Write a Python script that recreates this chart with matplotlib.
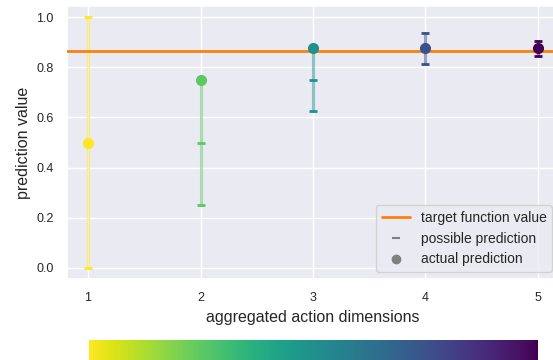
import numpy as np
import matplotlib
matplotlib.use("Agg")
import matplotlib.pyplot as plt
import seaborn as sns
from matplotlib.lines import Line2D

sns.set_theme(style="darkgrid")
plt.rcParams['font.family'] = ['Arial', 'Liberation Sans', 'DejaVu Sans']

dims = [1, 2, 3, 4, 5]
possible = [
    [0.0, 1.0],
    [0.25, 0.5, 0.75],
    [0.625, 0.75, 0.875],
    [0.8125, 0.875, 0.9375],
    [0.84375, 0.875, 0.90625],
]
actual = [0.5, 0.75, 0.875, 0.875, 0.875]
target = 0.866

fig = plt.figure(figsize=(5.53, 3.6), dpi=100)
ax = fig.add_axes([67/553, 81/360, 492/553, 273/360])
cmap = plt.get_cmap('viridis_r')
norm = matplotlib.colors.Normalize(vmin=1, vmax=5)

ax.axhline(target, color='#ff7f0e', lw=2, zorder=3)
for d, poss, act in zip(dims, possible, actual):
    c = cmap(norm(d))
    lo, hi = min(poss + [act]), max(poss + [act])
    ax.plot([d, d], [lo, hi], color=c, alpha=0.5, lw=2.2, zorder=2)
    ax.plot([d] * len(poss), poss, ls='none', marker='_', ms=6, mew=2, color=c, zorder=4)
    ax.plot([d], [act], ls='none', marker='o', ms=7, color=c, zorder=5)

ax.set_xlim(0.813, 5.187)
ax.set_ylim(-0.044, 1.044)
ax.set_xticks(dims)
ax.set_yticks([0.0, 0.2, 0.4, 0.6, 0.8, 1.0])
ax.tick_params(labelsize=9, colors='#262626')
ax.set_xlabel('aggregated action dimensions', fontsize=11.5)
ax.set_ylabel('prediction value', fontsize=11.5)

handles = [
    Line2D([], [], color='#ff7f0e', lw=2),
    Line2D([], [], color='gray', ls='none', marker='_', ms=6, mew=1.5),
    Line2D([], [], color='gray', ls='none', marker='o', ms=6),
]
ax.legend(handles, ['target function value', 'possible prediction', 'actual prediction'],
          loc='lower right', fontsize=10)

cax = fig.add_axes([89/553, -0.03, 449/553, 20/360 + 0.03])
cb = matplotlib.colorbar.ColorbarBase(cax, cmap=cmap, norm=norm, orientation='horizontal')
cb.outline.set_visible(False)
cax.set_xticks([])

fig.savefig('out.png', dpi=100)
